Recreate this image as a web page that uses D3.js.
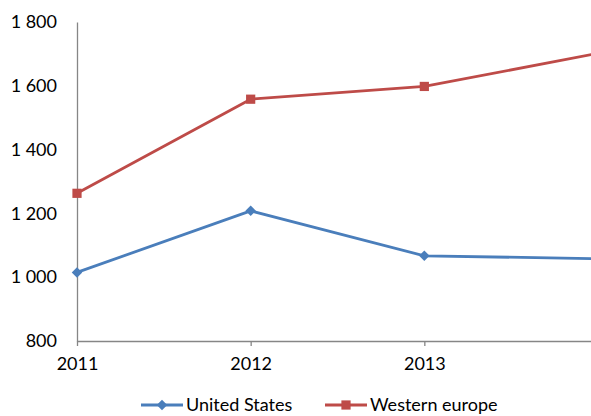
<!DOCTYPE html>
<html>
<head>
<meta charset="utf-8">
<script src="https://cdn.jsdelivr.net/npm/d3@7"></script>
<style>
  body { margin: 0; background: #fff; overflow: hidden; }
  svg { display: block; font-family: Lato, "Open Sans", sans-serif; }
</style>
</head>
<body>
<div id="chart"></div>
<script>
// Data
const years = ['2011', '2012', '2013', '2014'];
const unitedStates = [1015, 1208, 1067, 1058];
const westernEurope = [1263, 1558, 1598, 1702];
const yTicks = [800, 1000, 1200, 1400, 1600, 1800];
const xLabels = ['2011', '2012', '2013'];

function createChart() {
    const width = 591, height = 416;
    const svg = d3.select('#chart').append('svg')
        .attr('width', width)
        .attr('height', height);

    const fmt = d3.formatLocale({ decimal: ',', thousands: ' ', grouping: [3], currency: ['', ''] }).format(',d');

    // Scales
    const x = d3.scalePoint().domain(years).range([77, 598]);
    const y = d3.scaleLinear().domain([800, 1800]).range([341, 22]);

    // Y axis
    const yAxis = svg.append('g')
        .attr('transform', 'translate(77,0)')
        .call(d3.axisLeft(y).tickValues(yTicks).tickSize(0).tickPadding(20).tickFormat(fmt));
    yAxis.select('.domain').attr('stroke', '#868686').attr('stroke-width', 1.3);
    yAxis.selectAll('text')
        .attr('font-size', '18px')
        .attr('fill', '#000')
        .attr('font-family', 'Lato, sans-serif');

    // X axis
    const xAxis = svg.append('g')
        .attr('transform', 'translate(0,341)')
        .call(d3.axisBottom(x).tickSizeInner(5).tickSizeOuter(0).tickPadding(11)
            .tickFormat(d => xLabels.includes(d) ? d : ''));
    xAxis.select('.domain').attr('stroke', '#868686').attr('stroke-width', 1.3);
    xAxis.selectAll('.tick line').attr('stroke', '#868686').attr('stroke-width', 1.3);
    xAxis.selectAll('text')
        .attr('font-size', '18px')
        .attr('fill', '#000')
        .attr('font-family', 'Lato, sans-serif');

    const series = [
        { name: 'United States', values: unitedStates, color: '#4A7EBB', shape: d3.symbolDiamond2 },
        { name: 'Western europe', values: westernEurope, color: '#BE4B48', shape: d3.symbolSquare }
    ];

    const line = d3.line()
        .x((d, i) => x(years[i]))
        .y(d => y(d));

    series.forEach(s => {
        svg.append('path')
            .datum(s.values)
            .attr('fill', 'none')
            .attr('stroke', s.color)
            .attr('stroke-width', 2.8)
            .attr('stroke-linejoin', 'round')
            .attr('d', line);

        svg.selectAll(null)
            .data(s.values)
            .enter()
            .append('path')
            .attr('transform', (d, i) => `translate(${x(years[i])},${y(d)})`)
            .attr('d', d3.symbol().type(s.shape).size(s.shape === d3.symbolSquare ? 85 : 70))
            .attr('fill', s.color);
    });

    // Legend (the reference clips it at the bottom; kept just inside here)
    const legendX = [141, 325];
    series.forEach((s, i) => {
        const g = svg.append('g').attr('transform', `translate(${legendX[i]},405)`);
        g.append('line')
            .attr('x1', 0).attr('x2', 42)
            .attr('stroke', s.color)
            .attr('stroke-width', 2.8);
        g.append('path')
            .attr('transform', 'translate(21,0)')
            .attr('d', d3.symbol().type(s.shape).size(s.shape === d3.symbolSquare ? 85 : 70))
            .attr('fill', s.color);
        g.append('text')
            .attr('x', 45)
            .attr('dy', '0.35em')
            .attr('font-size', '18px')
            .attr('fill', '#000')
            .text(s.name);
    });
}

createChart();
</script>
</body>
</html>
